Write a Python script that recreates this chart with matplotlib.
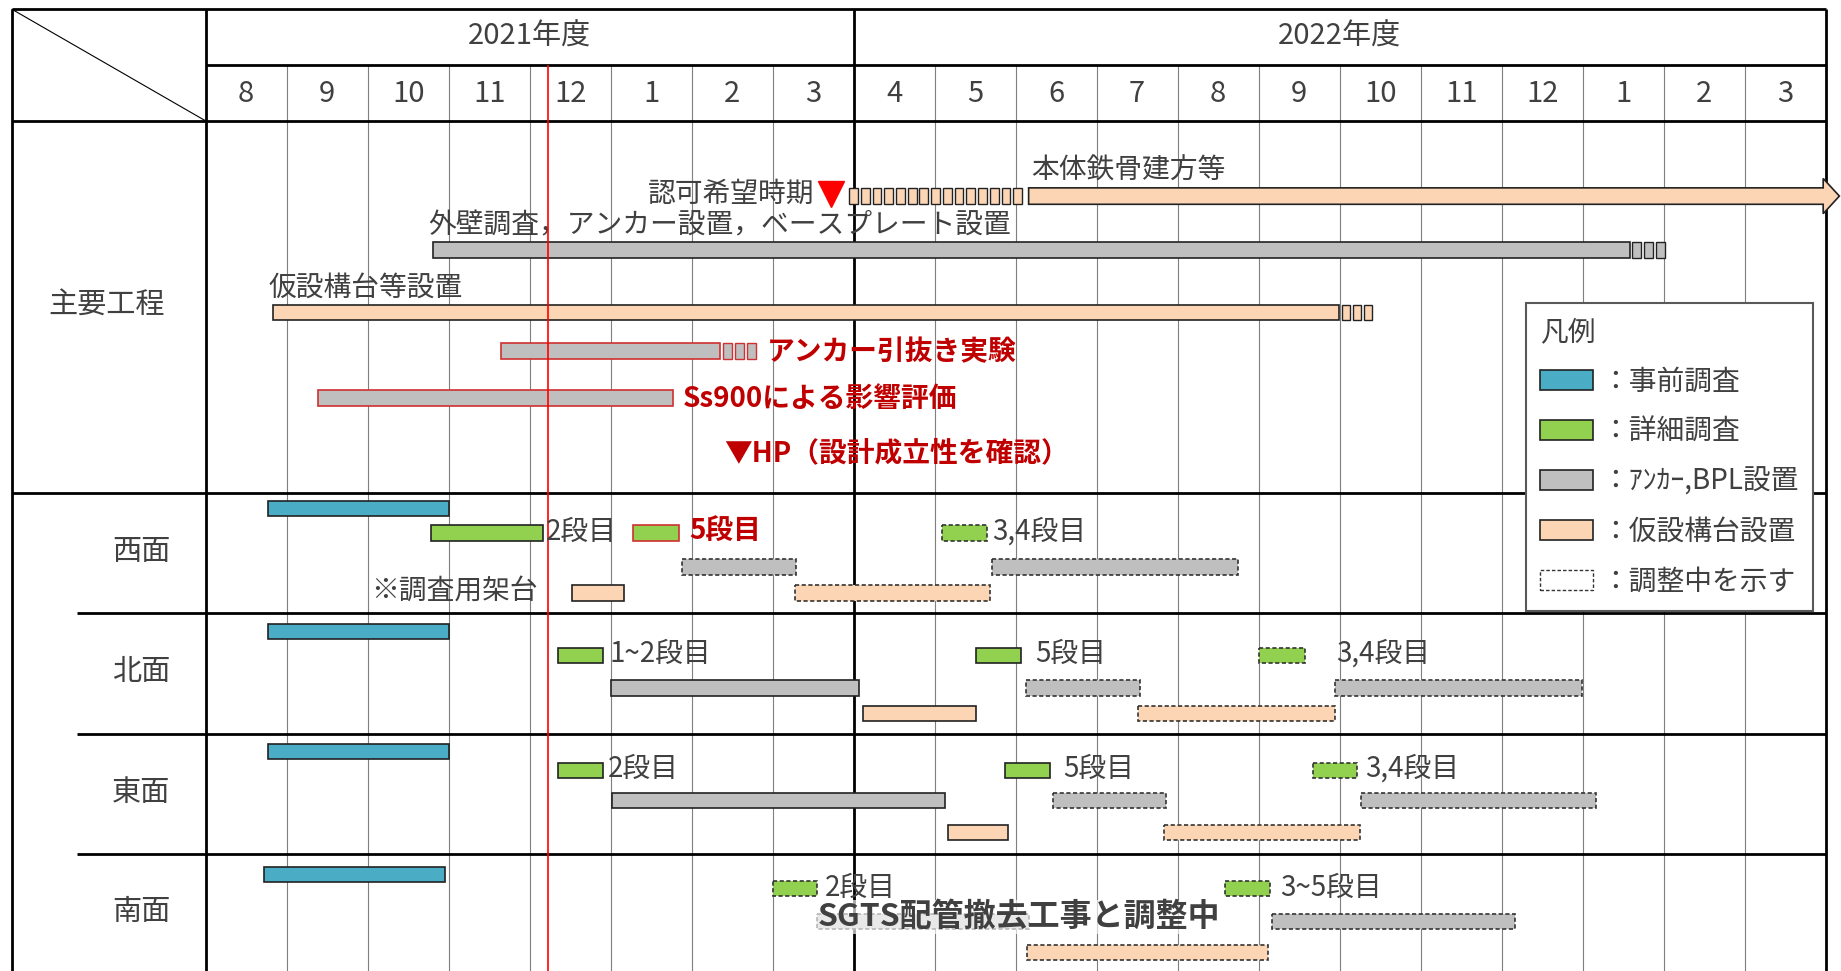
import matplotlib.pyplot as plt
from matplotlib.patches import Rectangle, Polygon, Patch

plt.rcParams['font.family'] = ['Noto Sans CJK JP', 'DejaVu Sans']

# ---------------- data (x in months, 0 = start of Aug 2021) ----------------
fiscal_years = ['2021年度', '2022年度']
fiscal_len = [8, 12]
months = ['8', '9', '10', '11', '12', '1', '2', '3',
          '4', '5', '6', '7', '8', '9', '10', '11', '12', '1', '2', '3']
today = 4.23

# 主要工程
approval = 7.72                      # 認可希望時期
steel_pending = [7.93, 10.10]        # 調整中 (small boxes)
steel_start = 10.16
steel_end = 20.17                    # 本体鉄骨建方等 (arrow)

main_names = ['外壁調査，アンカー設置，ベースプレート設置', '仮設構台等設置',
              'アンカー引抜き実験', 'Ss900による影響評価']
main_start = [2.81, 0.83, 3.65, 1.39]
main_end = [17.58, 13.99, 6.35, 5.77]
main_tail = [18.04, 14.42, 6.81, 5.77]
main_kind = ['BPL', '構台', 'BPL', 'BPL']
main_red = [False, False, True, True]
hp_point = 6.40

# 各面
faces = ['西面', '北面', '東面', '南面']

west_start = [0.77, 2.78, 5.28, 9.09, 5.88, 9.71, 4.52, 7.28]
west_end = [3.00, 4.16, 5.84, 9.64, 7.29, 12.74, 5.16, 9.68]
west_kind = ['事前', '詳細', '詳細', '詳細', 'BPL', 'BPL', '構台', '構台']
west_dash = [0, 0, 0, 1, 1, 1, 0, 1]
west_text = ['', '2段目', '5段目', '3,4段目', '', '', '', '']

north_start = [0.77, 4.35, 9.51, 13.01, 5.00, 10.13, 13.94, 8.12, 11.51]
north_end = [3.00, 4.91, 10.07, 13.57, 8.07, 11.54, 16.99, 9.51, 13.94]
north_kind = ['事前', '詳細', '詳細', '詳細', 'BPL', 'BPL', 'BPL', '構台', '構台']
north_dash = [0, 0, 0, 1, 0, 1, 1, 0, 1]
north_text = ['', '1~2段目', '5段目', '3,4段目', '', '', '', '', '']

east_start = [0.77, 4.35, 9.87, 13.67, 5.01, 10.46, 14.26, 9.16, 11.83]
east_end = [3.00, 4.91, 10.42, 14.22, 9.13, 11.86, 17.16, 9.90, 14.25]
east_kind = ['事前', '詳細', '詳細', '詳細', 'BPL', 'BPL', 'BPL', '構台', '構台']
east_dash = [0, 0, 0, 1, 0, 1, 1, 0, 1]
east_text = ['', '2段目', '5段目', '3,4段目', '', '', '', '', '']

south_start = [0.72, 7.00, 12.59, 7.55, 13.16, 10.14]
south_end = [2.96, 7.55, 13.14, 10.16, 16.16, 13.12]
south_kind = ['事前', '詳細', '詳細', 'BPL', 'BPL', '構台']
south_dash = [0, 1, 1, 1, 1, 1]
south_text = ['', '2段目', '3~5段目', '', '', '']

colors = {'事前': '#4bacc6', '詳細': '#92d050', 'BPL': '#bfbfbf', '構台': '#fcd5b4'}
legend_labels = ['：事前調査', '：詳細調査', '：ｱﾝｶｰ,BPL設置', '：仮設構台設置', '：調整中を示す']

# ---------------- layout ----------------
TXT = '#404040'
RED = '#c00000'
LEFT, SEP, RIGHT = -2.39, -1.59, 20.0
TOP, YEAR_B, HEAD_B, MAIN_B = 8, 55, 103, 420
face_top = [420, 522, 625, 727]
face_lanes = [[433, 454, 483, 505], [538, 558, 586, 608],
              [640, 656, 682, 709], [745, 757, 785, 811]]
lane_of = {'事前': 0, '詳細': 1, 'BPL': 2, '構台': 3}
BH = 13
FS = 20

fig = plt.figure(figsize=(18.41, 9.71), dpi=100)
ax = fig.add_axes([0, 0, 1, 1])
ax.set_xlim(LEFT - 0.15, RIGHT + 0.19)
ax.set_ylim(827, 0)
ax.axis('off')

# grid / table
thick = dict(color='black', lw=2.0, zorder=2)
for i in range(1, len(months)):
    if i != fiscal_len[0]:
        ax.vlines(i, YEAR_B, 827, color='#7f7f7f', lw=0.8, zorder=1)
ax.vlines([LEFT, 0, fiscal_len[0], RIGHT], TOP, 827, **thick)
ax.hlines(TOP, LEFT, RIGHT, **thick)
ax.hlines(YEAR_B, 0, RIGHT, **thick)
ax.hlines([HEAD_B, MAIN_B], LEFT, RIGHT, **thick)
ax.hlines(face_top[1:], SEP, RIGHT, **thick)
ax.plot([LEFT, 0], [TOP, HEAD_B], color='black', lw=0.8, zorder=2)
ax.vlines(today, YEAR_B, 827, color='red', lw=1.2, zorder=4)

# header text
x0 = 0
for fy, n in zip(fiscal_years, fiscal_len):
    ax.text(x0 + n / 2, (TOP + YEAR_B) / 2, fy, ha='center', va='center', fontsize=21, color=TXT)
    x0 += n
for i, m in enumerate(months):
    ax.text(i + 0.5, (YEAR_B + HEAD_B) / 2 + 1, m, ha='center', va='center', fontsize=21, color=TXT)

ax.text(SEP + 0.37, 260, '主要工程', ha='center', va='center', fontsize=21, color=TXT)
for f, top in zip(faces, face_top):
    ax.text(-0.80, top + 50, f, ha='center', va='center', fontsize=21, color=TXT)


def pending_boxes(a, b, y, face, edge):
    n = max(1, round((b - a) / 0.145))
    step = (b - a) / n
    for k in range(n):
        ax.add_patch(Rectangle((a + k * step + step * 0.1, y - BH / 2), step * 0.75, BH,
                               facecolor=face, edgecolor=edge, lw=1.0, zorder=3))


# 主要工程 bars
main_y = [213, 266, 299, 339]
for name, s, e, t, k, red, y in zip(main_names, main_start, main_end, main_tail,
                                     main_kind, main_red, main_y):
    edge = '#d03030' if red else '#222222'
    ax.barh(y, e - s, left=s, height=BH, color=colors[k], edgecolor=edge, lw=1.2, zorder=3)
    if t > e:
        pending_boxes(e + 0.02, t, y, colors[k], edge)
    if red:
        ax.text(t + 0.12, y + 1, name, ha='left', va='center', fontsize=FS,
                color=RED, fontweight='bold')
    else:
        ax.text(s - 0.06, y - 21, name, ha='left', va='center', fontsize=FS, color=TXT)

# 本体鉄骨建方等
sy = 167
pending_boxes(steel_pending[0], steel_pending[1], sy, colors['構台'], '#222222')
hl = 0.2
ax.add_patch(Polygon([(steel_start, sy - 7), (steel_end - hl, sy - 7), (steel_end - hl, sy - 15),
                      (steel_end, sy), (steel_end - hl, sy + 15), (steel_end - hl, sy + 7),
                      (steel_start, sy + 7)], closed=True, facecolor=colors['構台'],
                     edgecolor='#222222', lw=1.2, zorder=3))
ax.text(steel_start + 0.03, sy - 22, '本体鉄骨建方等', ha='left', va='center', fontsize=FS, color=TXT)
ax.plot(approval, sy - 2, marker='v', color='red', ms=19, zorder=5)
ax.text(approval - 0.21, sy - 2, '認可希望時期', ha='right', va='center', fontsize=FS, color=TXT)
ax.text(hp_point, 386, '▼HP（設計成立性を確認）', ha='left', va='center', fontsize=FS,
        color=RED, fontweight='bold')

# faces
face_data = [
    (west_start, west_end, west_kind, west_dash, west_text),
    (north_start, north_end, north_kind, north_dash, north_text),
    (east_start, east_end, east_kind, east_dash, east_text),
    (south_start, south_end, south_kind, south_dash, south_text),
]
label_gap = [[0, 0.04, 0.13, 0.07, 0, 0, 0, 0],
             [0, 0.07, 0.17, 0.39, 0, 0, 0, 0, 0],
             [0, 0.06, 0.17, 0.10, 0, 0, 0, 0, 0],
             [0, 0.10, 0.12, 0, 0, 0]]

for fi, (st, en, kd, ds, tx) in enumerate(face_data):
    lanes = face_lanes[fi]
    for j in range(len(st)):
        y = lanes[lane_of[kd[j]]]
        is_red = (fi == 0 and j == 2)
        if ds[j]:
            ax.barh(y, en[j] - st[j], left=st[j], height=BH, color=colors[kd[j]],
                    edgecolor='#333333', lw=1.2, linestyle=(0, (2.5, 1.5)), zorder=3)
        else:
            ax.barh(y, en[j] - st[j], left=st[j], height=BH, color=colors[kd[j]],
                    edgecolor='#d03030' if is_red else '#222222', lw=1.2, zorder=3)
        if tx[j]:
            ax.text(en[j] + label_gap[fi][j], y - 1, tx[j], ha='left', va='center', fontsize=FS,
                    color=RED if is_red else TXT, fontweight='bold' if is_red else 'normal',
                    zorder=4)

ax.text(west_start[6] - 0.42, face_lanes[0][3] - 2, '※調査用架台', ha='right', va='center',
        fontsize=FS, color=TXT)
ax.text(7.55, 781, 'SGTS配管撤去工事と調整中', ha='left', va='center', fontsize=23,
        fontweight='bold', color=TXT, zorder=6,
        bbox=dict(facecolor='white', edgecolor='none', alpha=0.65, pad=1))

# legend
handles = [Patch(facecolor=colors[k], edgecolor='#222222', lw=1.2) for k in ['事前', '詳細', 'BPL', '構台']]
handles.append(Patch(facecolor='white', edgecolor='#333333', lw=1.0, linestyle=(0, (2.5, 1.5))))
leg = ax.legend(handles, legend_labels, title='凡例', loc='upper left',
                bbox_to_anchor=(1300 / 1568, 1 - 258 / 827), alignment='left',
                fontsize=FS, title_fontsize=FS, frameon=True, fancybox=False,
                framealpha=1, edgecolor='#595959', handlelength=1.9, handleheight=0.7,
                handletextpad=0.3, labelspacing=0.72, borderpad=0.5, borderaxespad=0)
for t in leg.get_texts():
    t.set_color(TXT)
leg.get_title().set_color(TXT)
leg.get_frame().set_linewidth(1.5)
leg.set_zorder(7)

fig.savefig('out.png', dpi=100)
